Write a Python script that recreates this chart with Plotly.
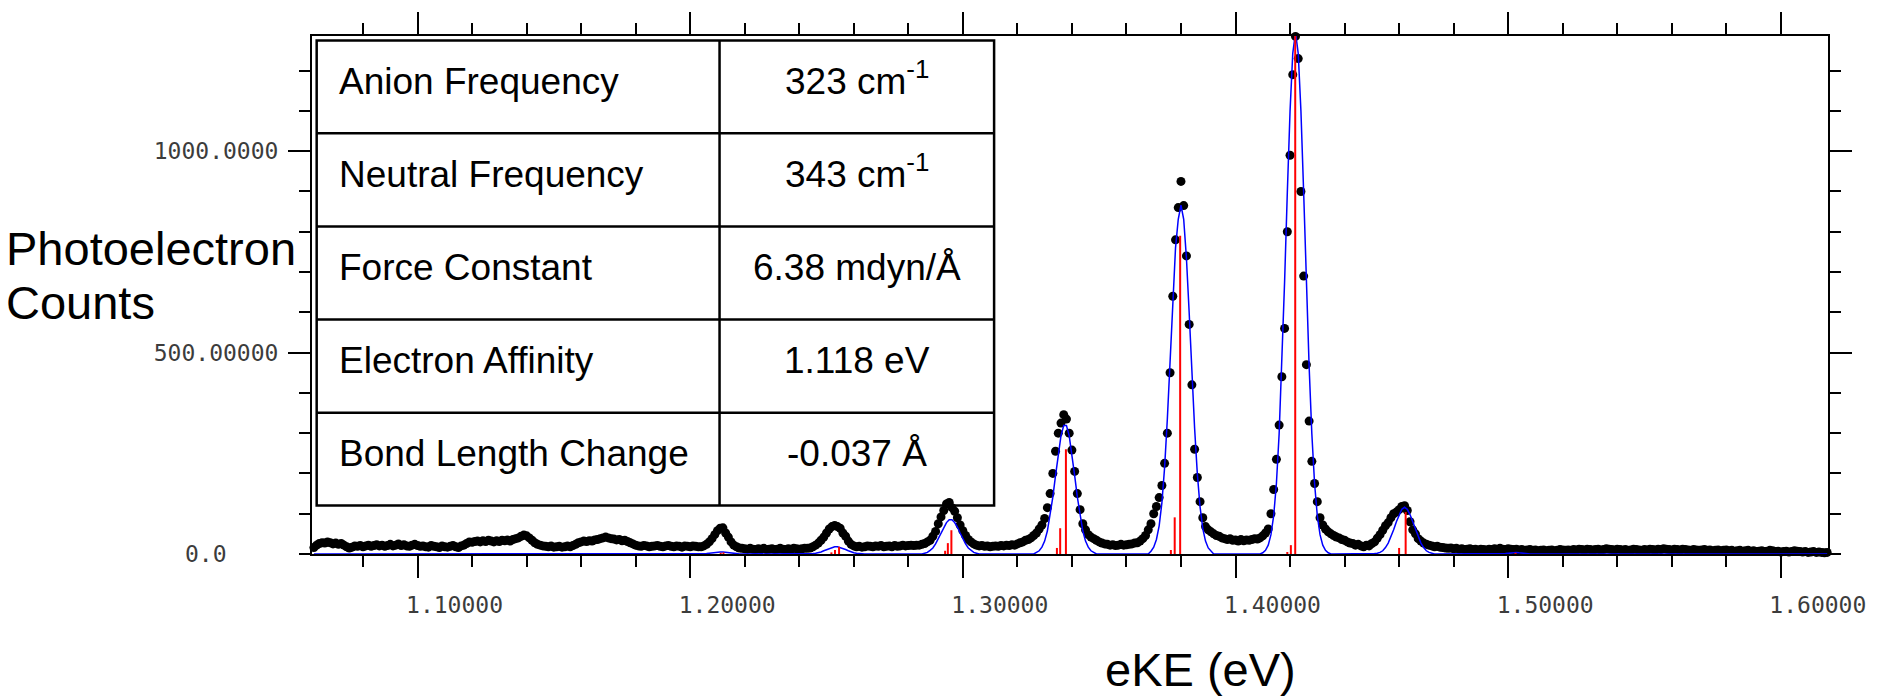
import numpy as np
import plotly.graph_objects as go

# ---------------------------------------------------------------------------
# Photoelectron spectrum: measured counts on a uniform eKE grid (eV)
# ---------------------------------------------------------------------------
EKE_START = 1.062
EKE_STEP = 0.001

COUNTS = [
    16, 22, 26, 28, 27, 30, 28, 25, 27, 24,        # 1.062 - 1.071
    26, 22, 18, 15, 17, 20, 19, 21, 18, 20,        # 1.072 - 1.081
    22, 19, 21, 23, 20, 22, 19, 21, 24, 20,        # 1.082 - 1.091
    22, 25, 21, 23, 20, 19, 22, 24, 21, 19,        # 1.092 - 1.101
    20, 18, 17, 21, 19, 18, 16, 20, 18, 17,        # 1.102 - 1.111
    19, 21, 18, 16, 20, 22, 26, 30, 29, 31,        # 1.112 - 1.121
    32, 30, 33, 31, 34, 32, 30, 33, 31, 34,        # 1.122 - 1.131
    33, 35, 32, 36, 38, 40, 44, 47, 45, 40,        # 1.132 - 1.141
    34, 28, 24, 22, 20, 19, 18, 20, 17, 18,        # 1.142 - 1.151
    19, 17, 18, 20, 18, 21, 24, 28, 30, 32,        # 1.152 - 1.161
    31, 33, 32, 35, 36, 38, 40, 42, 40, 38,        # 1.162 - 1.171
    37, 35, 36, 33, 34, 31, 28, 25, 22, 20,        # 1.172 - 1.181
    19, 21, 20, 18, 19, 20, 21, 19, 18, 20,        # 1.182 - 1.191
    21, 19, 18, 20, 19, 17, 20, 19, 18, 20,        # 1.192 - 1.201
    19, 18, 18, 20, 24, 30, 38, 48, 58, 64,        # 1.202 - 1.211
    65, 52, 42, 30, 22, 18, 15, 14, 13, 12,        # 1.212 - 1.221
    14, 12, 11, 13, 12, 14, 11, 12, 13, 11,        # 1.222 - 1.231
    12, 14, 12, 11, 13, 12, 14, 13, 12, 13,        # 1.232 - 1.241
    14, 14, 15, 18, 22, 27, 34, 42, 52, 62,        # 1.242 - 1.251
    68, 71, 68, 64, 52, 44, 32, 24, 20, 18,        # 1.252 - 1.261
    19, 17, 18, 20, 19, 18, 20, 19, 21, 18,        # 1.262 - 1.271
    19, 20, 18, 21, 19, 20, 22, 20, 21, 22,        # 1.272 - 1.281
    21, 22, 22, 24, 26, 30, 34, 44, 56, 75,        # 1.282 - 1.291
    92, 108, 124, 128, 115, 106, 90, 72, 58, 46,   # 1.292 - 1.301
    36, 30, 25, 22, 20, 21, 19, 20, 18, 19,        # 1.302 - 1.311
    20, 19, 21, 20, 22, 21, 23, 22, 25, 28,        # 1.312 - 1.321
    30, 34, 36, 40, 46, 52, 62, 72, 88, 115,       # 1.322 - 1.331
    150, 200, 255, 300, 325, 346, 335, 300, 258, 205,   # 1.332 - 1.341
    150, 110, 75, 60, 48, 42, 38, 34, 30, 27,      # 1.342 - 1.351
    25, 24, 22, 23, 21, 22, 24, 22, 23, 24,        # 1.352 - 1.361
    25, 27, 28, 32, 38, 46, 60, 75, 100, 118,      # 1.362 - 1.371
    140, 170, 225, 300, 450, 640, 780, 860, 925, 865,   # 1.372 - 1.381
    740, 570, 420, 260, 190, 130, 90, 68, 60, 55,  # 1.382 - 1.391
    50, 46, 44, 40, 38, 36, 38, 34, 35, 32,        # 1.392 - 1.401
    36, 33, 35, 34, 36, 38, 37, 40, 45, 52,        # 1.402 - 1.411
    62, 100, 160, 235, 320, 440, 560, 800, 990, 1190,   # 1.412 - 1.421
    1285, 1230, 900, 690, 470, 330, 230, 175, 130, 90,  # 1.422 - 1.431
    72, 62, 55, 50, 46, 42, 40, 36, 34, 30,        # 1.432 - 1.441
    27, 26, 22, 24, 20, 18, 22, 20, 26, 30,        # 1.442 - 1.451
    39, 48, 59, 70, 78, 90, 100, 104, 110, 118,    # 1.452 - 1.461
    120, 108, 80, 60, 50, 38, 32, 27, 24, 22,      # 1.462 - 1.471
    20, 18, 19, 17, 16, 15, 14, 15, 13, 14,        # 1.472 - 1.481
    12, 13, 11, 12, 13, 11, 12, 10, 12, 11,        # 1.482 - 1.491
    10, 12, 11, 13, 12, 14, 12, 11, 13, 12,        # 1.492 - 1.501
    11, 12, 10, 11, 9, 10, 11, 9, 10, 8,           # 1.502 - 1.511
    9, 10, 8, 9, 10, 8, 9, 11, 10, 9,              # 1.512 - 1.521
    10, 9, 11, 10, 12, 11, 10, 12, 11, 10,         # 1.522 - 1.531
    11, 12, 10, 11, 13, 12, 11, 10, 12, 11,        # 1.532 - 1.541
    10, 11, 9, 10, 12, 11, 10, 9, 11, 10,          # 1.542 - 1.551
    12, 11, 10, 12, 11, 13, 12, 11, 10, 12,        # 1.552 - 1.561
    11, 10, 12, 11, 10, 9, 11, 10, 9, 10,          # 1.562 - 1.571
    11, 9, 10, 8, 9, 10, 8, 9, 10, 8,              # 1.572 - 1.581
    9, 7, 8, 9, 7, 8, 9, 7, 8, 6,                  # 1.582 - 1.591
    7, 8, 6, 7, 9, 8, 6, 7, 5, 6,                  # 1.592 - 1.601
    7, 5, 6, 8, 7, 6, 5, 6, 4, 5,                  # 1.602 - 1.611
    6, 4, 5, 4, 3, 4,                              # 1.612 - 1.617
]

# Franck-Condon simulation (convolved stick spectrum) on the same grid
FIT = (
    [0] * 140                                       # 1.062 - 1.201
    + [0, 0, 0, 0, 1, 2, 3, 4, 4.5, 5]              # 1.202 - 1.211
    + [5, 4.5, 4, 3, 2, 1, 0, 0, 0, 0]              # 1.212 - 1.221
    + [0] * 20                                      # 1.222 - 1.241
    + [0, 0, 0, 1, 2, 3, 5, 8, 11, 14]              # 1.242 - 1.251
    + [16, 18, 18, 16, 14, 11, 8, 5, 3, 2]          # 1.252 - 1.261
    + [1, 0, 0, 0, 0, 0, 0, 0, 0, 0]                # 1.262 - 1.271
    + [0] * 10                                      # 1.272 - 1.281
    + [0, 0, 0, 0, 2, 4, 9, 15, 25, 38]             # 1.282 - 1.291
    + [52, 67, 78, 85, 85, 78, 67, 52, 38, 25]      # 1.292 - 1.301
    + [15, 9, 4, 2, 0, 0, 0, 0, 0, 0]               # 1.302 - 1.311
    + [0] * 10                                      # 1.312 - 1.321
    + [0, 0, 0, 0, 0, 4, 8, 17, 32, 57]             # 1.322 - 1.331
    + [94, 141, 195, 250, 294, 319, 319, 294, 250, 195]   # 1.332 - 1.341
    + [141, 94, 57, 32, 17, 8, 4, 0, 0, 0]          # 1.342 - 1.351
    + [0] * 10                                      # 1.352 - 1.361
    + [0, 0, 0, 0, 0, 0, 0, 7, 17, 36]              # 1.362 - 1.371
    + [70, 127, 215, 335, 480, 630, 760, 831, 866, 831]   # 1.372 - 1.381
    + [735, 600, 451, 312, 199, 117, 63, 32, 15, 6]       # 1.382 - 1.391
    + [0] * 10                                      # 1.392 - 1.401
    + [0, 0, 0, 0, 0, 0, 0, 0, 3, 9]                # 1.402 - 1.411
    + [22, 48, 95, 175, 298, 466, 675, 897, 1099, 1243]   # 1.412 - 1.421
    + [1295, 1243, 1099, 897, 675, 466, 298, 175, 95, 48] # 1.422 - 1.431
    + [22, 9, 3, 0, 0, 0, 0, 0, 0, 0]               # 1.432 - 1.441
    + [0, 0, 0, 0, 0, 0, 0, 0, 0, 1]                # 1.442 - 1.451
    + [2, 4, 8, 16, 27, 42, 60, 80, 98, 111]        # 1.452 - 1.461
    + [116, 111, 98, 80, 60, 42, 27, 16, 8, 4]      # 1.462 - 1.471
    + [2, 0, 0, 0, 0, 0, 0, 0, 0, 0]                # 1.472 - 1.481
    + [0] * 10                                      # 1.482 - 1.491
    + [0, 0, 0, 0, 0, 0, 0, 1, 2, 3]                # 1.492 - 1.501
    + [4, 4, 3, 2, 1, 0, 0, 0, 0, 0]                # 1.502 - 1.511
    + [0] * 106                                     # 1.512 - 1.617
)

# Franck-Condon stick positions (eV) and intensities
STICK_EKE = [1.2112, 1.2122, 1.2518, 1.2531, 1.2546, 1.2935, 1.2945, 1.2958,
             1.3345, 1.3357, 1.3378, 1.3763, 1.3777, 1.3797, 1.4190, 1.4203,
             1.4219, 1.4600, 1.4624, 1.5027]
STICK_INT = [3, 4, 4, 10, 18, 8, 27, 59,
             15, 64, 260, 10, 91, 790, 5, 22,
             1290, 15, 104, 3]

# Fitted parameters shown in the inset table
TABLE_LABELS = ["Anion Frequency", "Neutral Frequency", "Force Constant",
                "Electron Affinity", "Bond Length Change"]
TABLE_VALUES = ["323 cm<sup>-1</sup>", "343 cm<sup>-1</sup>", "6.38 mdyn/Å",
                "1.118 eV", "-0.037 Å"]

X_TICKS = [1.1, 1.2, 1.3, 1.4, 1.5, 1.6]
Y_TICK_VALS = [500, 1000]
Y_TICK_TEXT = ["500.00000", "1000.0000"]
ZERO_LABEL = "0.0"

X_RANGE = [1.0613, 1.6173]
Y_RANGE = [0, 1286]

# ---------------------------------------------------------------------------
W, H = 1878, 698
ML, MR, MT, MB = 312, 42, 30, 144
PW, PH = W - ML - MR, H - MT - MB


def px(x):  # page pixel -> paper x
    return (x - ML) / PW


def py(y):  # page pixel -> paper y
    return (H - MB - y) / PH


eke = np.round(EKE_START + EKE_STEP * np.arange(len(COUNTS)), 4)

stick_x, stick_y = [], []
for e, h in zip(STICK_EKE, STICK_INT):
    stick_x += [e, e, None]
    stick_y += [0, h, None]

fig = go.Figure()
fig.add_trace(go.Scatter(
    x=eke, y=COUNTS, mode="markers", cliponaxis=False,
    marker=dict(color="black", size=9, line=dict(width=0)),
    showlegend=False, hoverinfo="skip"))
fig.add_trace(go.Scatter(
    x=eke, y=FIT, mode="lines",
    line=dict(color="#0000ff", width=1.5),
    showlegend=False, hoverinfo="skip"))
fig.add_trace(go.Scatter(
    x=stick_x, y=stick_y, mode="lines",
    line=dict(color="#ff0000", width=2),
    showlegend=False, hoverinfo="skip"))

tick_font = dict(family="DejaVu Sans Mono", size=23, color="#3c3c3c")

fig.update_xaxes(
    range=X_RANGE, tickmode="array", tickvals=X_TICKS, tickformat=".5f",
    ticks="outside", ticklen=22, tickwidth=2, tickcolor="black",
    showline=True, linewidth=2, linecolor="black", mirror="ticks",
    showgrid=False, zeroline=False, tickfont=tick_font,
    ticklabelshift=37, ticklabelstandoff=7,
    minor=dict(tickmode="linear", tick0=1.0, dtick=0.02, ticks="outside",
               ticklen=11, tickwidth=2, tickcolor="black", showgrid=False),
)
fig.update_yaxes(
    range=Y_RANGE, tickmode="array", tickvals=Y_TICK_VALS, ticktext=Y_TICK_TEXT,
    ticks="outside", ticklen=22, tickwidth=2, tickcolor="black",
    showline=True, linewidth=2, linecolor="black", mirror="ticks",
    showgrid=False, zeroline=False, tickfont=tick_font,
    ticklabelstandoff=5,
    minor=dict(tickmode="linear", tick0=0, dtick=100, ticks="outside",
               ticklen=11, tickwidth=2, tickcolor="black", showgrid=False),
)

shapes = []
annotations = []

# inset table frame
T_LEFT, T_MID, T_RIGHT = 316.7, 721.7, 997.7
ROWS = [34.5, 128.3, 222.7, 316.7, 411.0, 505.0]
line_style = dict(color="black", width=2.5)
shapes.append(dict(type="rect", xref="paper", yref="paper",
                   x0=px(T_LEFT), x1=px(T_RIGHT), y0=py(ROWS[-1]), y1=py(ROWS[0]),
                   line=line_style))
shapes.append(dict(type="line", xref="paper", yref="paper",
                   x0=px(T_MID), x1=px(T_MID), y0=py(ROWS[-1]), y1=py(ROWS[0]),
                   line=line_style))
for r in ROWS[1:-1]:
    shapes.append(dict(type="line", xref="paper", yref="paper",
                       x0=px(T_LEFT), x1=px(T_RIGHT), y0=py(r), y1=py(r),
                       line=line_style))

table_font = dict(family="Liberation Sans, Arial", size=37, color="black")
for i, (lab, val) in enumerate(zip(TABLE_LABELS, TABLE_VALUES)):
    baseline = ROWS[i] + 56.5
    yb = py(baseline + 8)
    annotations.append(dict(xref="paper", yref="paper", x=px(337), y=yb,
                            xanchor="left", yanchor="bottom", text=lab,
                            showarrow=False, font=table_font))
    annotations.append(dict(xref="paper", yref="paper", x=px(860), y=yb,
                            xanchor="center", yanchor="bottom", text=val,
                            showarrow=False, font=table_font))

title_font = dict(family="Liberation Sans, Arial", size=47, color="black")
annotations.append(dict(xref="paper", yref="paper", x=px(2), y=py(244.5),
                        xanchor="left", yanchor="middle", text="Photoelectron",
                        showarrow=False, font=title_font))
annotations.append(dict(xref="paper", yref="paper", x=px(2), y=py(299.5),
                        xanchor="left", yanchor="middle", text="Counts",
                        showarrow=False, font=title_font))
annotations.append(dict(xref="paper", yref="paper", x=px(1205), y=py(671),
                        xanchor="center", yanchor="middle", text="eKE (eV)",
                        showarrow=False, font=title_font))
# zero label on the count axis sits further left than the others
annotations.append(dict(xref="paper", yref="y", x=px(229), y=0,
                        xanchor="right", yanchor="middle", text=ZERO_LABEL,
                        showarrow=False, font=tick_font))

fig.update_layout(
    width=W, height=H,
    margin=dict(l=ML, r=MR, t=MT, b=MB, pad=0),
    paper_bgcolor="white", plot_bgcolor="white",
    shapes=shapes, annotations=annotations,
    showlegend=False,
)

fig.write_html("out.html")
